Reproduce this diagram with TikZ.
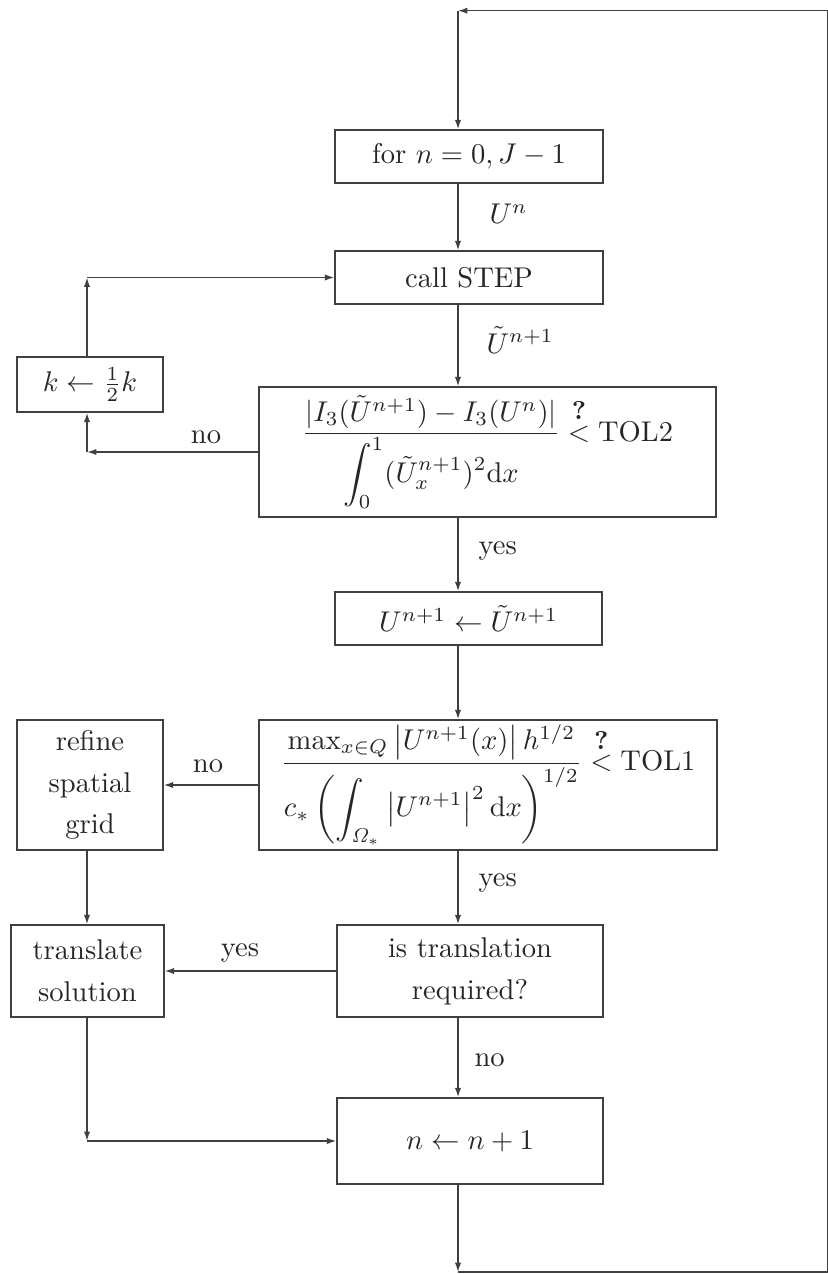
\documentclass[tikz,border=0pt]{standalone}
\usepackage{amsmath}
\usetikzlibrary{arrows.meta}
\begin{document}
\begin{tikzpicture}[x=0.35pt,y=-0.35pt,
  box/.style={draw=black!75, line width=0.5pt, inner sep=0pt, align=center, text=black!85},
  ln/.style={draw=black!75, line width=0.5pt},
  arr/.style={ln, -{Latex[length=3.3pt,width=2.2pt]}},
  lab/.style={text=black!85, inner sep=0pt}]
\useasboundingbox (0,0) rectangle (828,1274);
\coordinate (c) at (458,0);
\coordinate (l) at (87,0);
% boxes
\node[box, minimum width=93.8pt, minimum height=18.55pt] (for) at (469,156.5) {for $n=0,J-1$};
\node[box, minimum width=93.8pt, minimum height=18.55pt] (step) at (469,277.5) {call STEP};
\node[box, minimum width=51.1pt, minimum height=19.25pt] (kbox) at (90,384.5) {$k\leftarrow\frac{1}{2}k$};
\node[box, minimum width=159.95pt, minimum height=45.5pt] (tol2) at (487.5,452)
  {$\dfrac{|I_3(\tilde U^{n+1})-I_3(U^n)|}{\displaystyle\int_0^1(\tilde U_x^{n+1})^2\mathrm{d}x}\overset{\text{\small\bfseries ?}}{<}\mathrm{TOL2}$};
\node[box, minimum width=93.45pt, minimum height=18.55pt] (upd) at (468.5,618.5) {$U^{n+1}\leftarrow\tilde U^{n+1}$};
\node[box, minimum width=160.3pt, minimum height=45.5pt] (tol1) at (488,785)
  {$\dfrac{\max_{x\in Q}\left|U^{n+1}(x)\right|h^{1/2}}{c_*\left(\displaystyle\int_{\mathit{\Omega}_*}\left|U^{n+1}\right|^2\mathrm{d}x\right)^{1/2}}\overset{\text{\small\bfseries ?}}{<}\mathrm{TOL1}$};
\node[box, minimum width=51.1pt, minimum height=45.5pt] (refine) at (90,785) {refine\\[2.4pt]spatial\\[2.4pt]grid};
\node[box, minimum width=53.55pt, minimum height=32.2pt] (transl) at (87.5,971) {translate\\[2.6pt]solution};
\node[box, minimum width=93.1pt, minimum height=32.2pt] (istr) at (470,971) {is translation\\[2.6pt]required?};
\node[box, minimum width=93.1pt, minimum height=30.1pt] (incr) at (470,1141) {$n\leftarrow n+1$};
% main column
\draw[arr] (for.south -| c) -- (step.north -| c);
\draw[arr] (step.south -| c) -- (tol2.north -| c);
\draw[arr] (tol2.south -| c) -- (upd.north -| c);
\draw[arr] (upd.south -| c) -- (tol1.north -| c);
\draw[arr] (tol1.south -| c) -- (istr.north -| c);
\draw[arr] (istr.south -| c) -- (incr.north -| c);
% outer loop
\coordinate (cb) at (458,1272);
\coordinate (rb) at (827.5,1272);
\coordinate (rt) at (827.5,10.7);
\coordinate (ct) at (458,10.7);
\draw[arr] (incr.south -| c) -- (cb);
\draw[arr] (cb) -- (rb) -- (rt) -- (ct);
\draw[arr] (ct) -- (for.north -| c);
% k loop
\coordinate (kt) at (l |- step.west);
\draw[arr] (kbox.north -| l) -- (kt);
\draw[arr] (kt) -- (step.west);
\coordinate (kb) at (l |- tol2.west);
\draw[arr] (tol2.west) -- (kb);
\draw[arr] (kb) -- (kbox.south -| l);
% refine / translate
\draw[arr] (tol1.west) -- (refine.east |- tol1.west);
\draw[arr] (refine.south -| l) -- (transl.north -| l);
\draw[arr] (istr.west) -- (transl.east |- istr.west);
\coordinate (tb) at (l |- incr.west);
\draw[arr] (transl.south -| l) -- (tb);
\draw[arr] (tb) -- (incr.west);
% labels
\node[lab, anchor=west] (lun) at (489,214) {$U^n$};
\node[lab, anchor=west] (lut) at (486,340) {$\tilde U^{n+1}$};
\node[lab, anchor=west] (ly1) at (478,551) {yes};
\node[lab, anchor=west] (ly2) at (478,883) {yes};
\node[lab, anchor=west] (ln3) at (474,1060) {no};
\node[lab] (ln1) at (206,437) {no};
\node[lab] (ln2) at (208,766) {no};
\node[lab] (ly3) at (240,953) {yes};
\end{tikzpicture}
\end{document}
